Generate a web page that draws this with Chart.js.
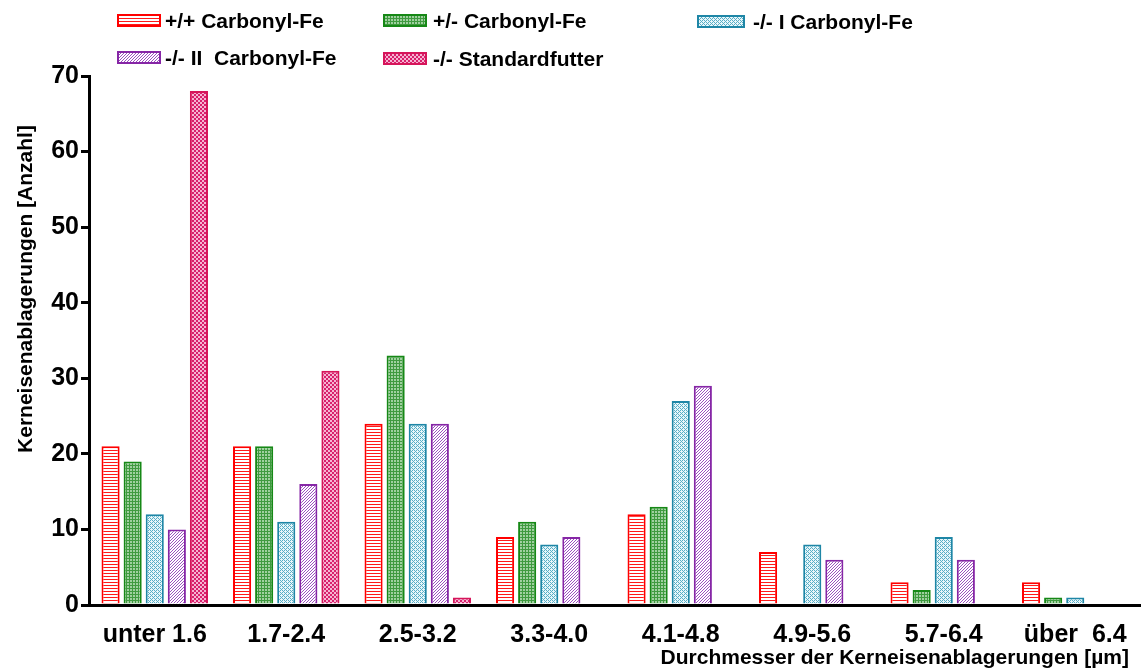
<!DOCTYPE html>
<html>
<head>
<meta charset="utf-8">
<script src="https://cdn.jsdelivr.net/npm/chart.js@4.4.1/dist/chart.umd.min.js"></script>
<style>
  html, body { margin: 0; background: #fff; }
  #wrap { width: 1141px; height: 671px; position: relative; }
</style>
</head>
<body>
<div id="wrap"><canvas id="bar-chart"></canvas></div>
<script>
// data
const categories = ['unter 1.6', '1.7-2.4', '2.5-3.2', '3.3-4.0', '4.1-4.8', '4.9-5.6', '5.7-6.4', 'über  6.4'];
const seriesNames = ['+/+ Carbonyl-Fe', '+/- Carbonyl-Fe', '-/- I Carbonyl-Fe', '-/- II  Carbonyl-Fe', '-/- Standardfutter'];
const wildCarbonyl = [21, 21, 24, 9, 12, 7, 3, 3];
const hetCarbonyl = [19, 21, 33, 11, 13, null, 2, 1];
const koICarbonyl = [12, 11, 24, 8, 27, 8, 9, 1];
const koIICarbonyl = [10, 16, 24, 9, 29, 6, 6, null];
const koStandard = [68, 31, 1, null, null, null, null, null];
const yMin = 0, yMax = 70, yStep = 10;

const FONT = "'Liberation Sans', Arial, Helvetica, sans-serif";
Chart.defaults.font.family = FONT;
Chart.defaults.color = '#000';

// little fill patterns like the original hatchings
function makePattern(size, bg, fg, paint) {
  const c = document.createElement('canvas');
  c.width = size; c.height = size;
  const g = c.getContext('2d');
  g.fillStyle = bg;
  g.fillRect(0, 0, size, size);
  g.fillStyle = fg;
  paint(g, size);
  return document.createElement('canvas').getContext('2d').createPattern(c, 'repeat');
}

const patterns = [
  // red horizontal lines
  makePattern(3, '#ffffff', '#ff1a1a', (g, s) => g.fillRect(0, 0, s, 1)),
  // green grid
  makePattern(3, '#9fd09f', '#3f9a3f', (g, s) => { g.fillRect(0, 0, s, 1); g.fillRect(0, 0, 1, s); }),
  // teal dotted diagonal
  makePattern(4, '#e8f6fa', '#58aec6', (g) => {
    g.fillRect(0, 0, 1, 1); g.fillRect(1, 1, 1, 1); g.fillRect(2, 2, 1, 1); g.fillRect(3, 3, 1, 1);
    g.fillRect(2, 0, 1, 1); g.fillRect(0, 2, 1, 1);
  }),
  // purple diagonal lines
  makePattern(3, '#ffffff', '#9c50c0', (g) => {
    g.fillRect(2, 0, 1, 1); g.fillRect(1, 1, 1, 1); g.fillRect(0, 2, 1, 1);
  }),
  // pink checker
  makePattern(4, '#f6b4d2', '#d8206c', (g) => { g.fillRect(0, 0, 2, 2); g.fillRect(2, 2, 2, 2); })
];
const borders = ['#ff0000', '#168816', '#1e86a6', '#8626a6', '#d6155a'];

const seriesData = [wildCarbonyl, hetCarbonyl, koICarbonyl, koIICarbonyl, koStandard];

// legend and axis titles drawn by hand to sit where the original has them
const decorPlugin = {
  id: 'decor',
  afterDraw(chart) {
    const ctx = chart.ctx;
    ctx.save();
    const spots = [
      [117, 14, 44, 13, 165, 28],
      [383, 14, 44, 13, 433, 28],
      [697, 15, 48, 13, 753, 29],
      [117, 51, 44, 13, 165, 65],
      [383, 52, 44, 13, 433, 66]
    ];
    ctx.font = 'bold 21px ' + FONT;
    ctx.textBaseline = 'alphabetic';
    ctx.textAlign = 'left';
    spots.forEach((s, i) => {
      ctx.fillStyle = patterns[i];
      ctx.fillRect(s[0], s[1], s[2], s[3]);
      ctx.strokeStyle = borders[i];
      ctx.lineWidth = 2;
      ctx.strokeRect(s[0] + 1, s[1] + 1, s[2] - 2, s[3] - 2);
      ctx.fillStyle = '#000';
      ctx.fillText(seriesNames[i], s[4], s[5]);
    });

    // x title
    ctx.textAlign = 'right';
    ctx.fillText('Durchmesser der Kerneisenablagerungen [µm]', 1129, 664);

    // y title
    ctx.translate(32, 289);
    ctx.rotate(-Math.PI / 2);
    ctx.textAlign = 'center';
    ctx.fillText('Kerneisenablagerungen [Anzahl]', 0, 0);
    ctx.restore();
  }
};

const ctx = document.getElementById('bar-chart').getContext('2d');
new Chart(ctx, {
  type: 'bar',
  data: {
    labels: categories,
    datasets: seriesData.map((d, i) => ({
      label: seriesNames[i],
      data: d,
      backgroundColor: patterns[i],
      borderColor: borders[i],
      borderWidth: 2,
      borderSkipped: 'bottom',
      barPercentage: 0.82,
      categoryPercentage: 0.84
    }))
  },
  plugins: [decorPlugin],
  options: {
    responsive: true,
    maintainAspectRatio: false,
    animation: false,
    layout: { padding: { top: 76, right: 0, left: 0, bottom: 0 } },
    plugins: {
      legend: { display: false },
      tooltip: { enabled: false }
    },
    scales: {
      x: {
        grid: { display: false },
        border: { color: '#000', width: 3 },
        ticks: { font: { size: 25, weight: 'bold' }, padding: 7, color: '#000', maxRotation: 0 },
        afterFit(scale) { scale.height = 66; }
      },
      y: {
        min: yMin,
        max: yMax,
        ticks: { stepSize: yStep, font: { size: 25, weight: 'bold' }, padding: 2, color: '#000' },
        grid: { drawOnChartArea: false, drawTicks: true, tickLength: 8, color: '#000', lineWidth: 3 },
        border: { color: '#000', width: 3 },
        afterFit(scale) { scale.width = 89; }
      }
    }
  }
});
</script>
</body>
</html>
